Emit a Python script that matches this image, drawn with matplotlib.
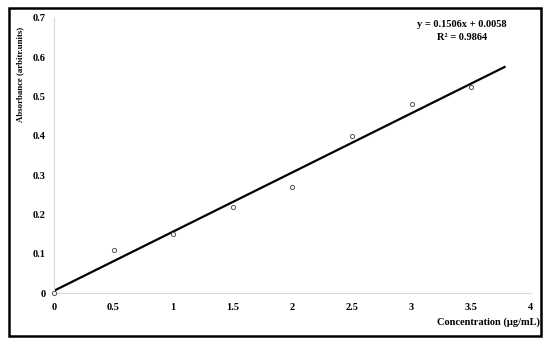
import matplotlib as mpl
from matplotlib import pyplot as plt
from matplotlib.patches import Rectangle
import numpy as np

mpl.rcParams['font.family'] = ['Liberation Serif', 'DejaVu Serif']
mpl.rcParams['font.weight'] = 'bold'
mpl.rcParams['font.size'] = 7.5

# Данные
conc = [0, 0.5, 1, 1.5, 2, 2.5, 3, 3.5]
absorb = [0.0, 0.11, 0.15, 0.22, 0.27, 0.40, 0.48, 0.525]
slope = 0.1506
intercept = 0.0058
r2 = 0.9864
fit_end = 3.78

fig = plt.figure(figsize=(5.5, 3.44), dpi=100)
ax = fig.add_axes([0.098, 0.148, 0.867, 0.8])

# Рамка вокруг рисунка
fig.patches.append(Rectangle((0.016, 0.024), 0.968, 0.953, transform=fig.transFigure,
                             fill=False, edgecolor='black', linewidth=1.8))

fit_x = np.array([0, fit_end])
ax.plot(fit_x, slope * fit_x + intercept, color='black', linewidth=1.6, zorder=2)
ax.scatter(conc, absorb, s=9, facecolors='white', edgecolors='#555555',
           linewidths=0.7, zorder=3, clip_on=False)

ax.set_xlim(0, 4)
ax.set_ylim(0, 0.7)
ax.set_xticks(np.arange(0, 4.01, 0.5))
ax.set_xticklabels(['0', '0.5', '1', '1.5', '2', '2.5', '3', '3.5', '4'])
ax.set_yticks(np.arange(0, 0.71, 0.1))
ax.set_yticklabels(['0', '0.1', '0.2', '0.3', '0.4', '0.5', '0.6', '0.7'])
ax.tick_params(axis='y', length=0, pad=6)
ax.tick_params(axis='x', length=0, pad=7)

for side in ['top', 'right']:
    ax.spines[side].set_visible(False)
for side in ['left', 'bottom']:
    ax.spines[side].set_color('#d9d9d9')
    ax.spines[side].set_linewidth(0.8)

fig.text(0.036, 0.785, 'Absorbance (arbitr.units)', rotation=90, ha='center', va='center',
         fontsize=6.3, fontweight='bold')
fig.text(0.982, 0.062, 'Concentration (μg/mL)', ha='right', va='center',
         fontsize=7.5, fontweight='bold')

fig.text(0.84, 0.93, f'y = {slope}x + {intercept}', ha='center', va='center',
         fontsize=7.5, fontweight='bold')
fig.text(0.84, 0.89, f'R² = {r2}', ha='center', va='center',
         fontsize=7.5, fontweight='bold')

plt.savefig('out.png', dpi=100)
